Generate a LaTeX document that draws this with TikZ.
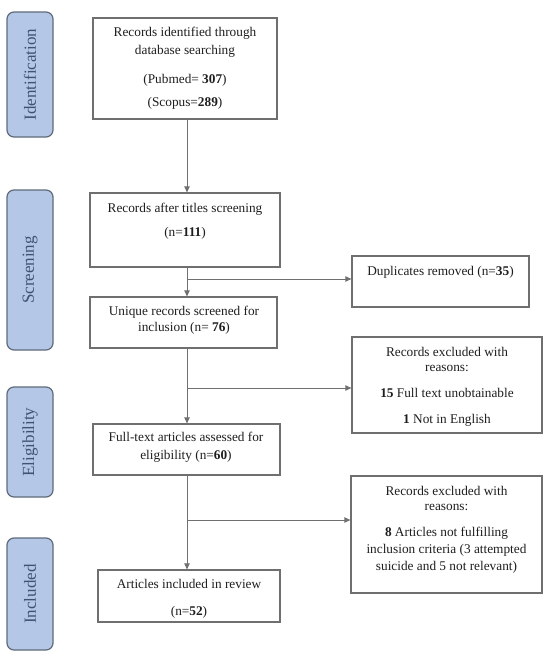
\documentclass[tikz,border=0pt]{standalone}
\usepackage{fontspec}
\setmainfont{Liberation Serif}
\usetikzlibrary{arrows.meta}
\definecolor{boxline}{HTML}{6F6F6F}
\definecolor{arrline}{HTML}{707070}
\definecolor{phasefill}{HTML}{B4C7E7}
\definecolor{phaseline}{HTML}{5F6B7A}
\definecolor{phasetext}{HTML}{3E5272}
\definecolor{txtcol}{HTML}{1E1E1E}
\begin{document}
\begin{tikzpicture}[x=1pt,y=-1pt,
  box/.style={draw=boxline, line width=1.3pt, inner sep=0pt},
  phase/.style={draw=phaseline, fill=phasefill, rounded corners=7pt, line width=1.2pt, minimum width=46pt, inner sep=0pt},
  phasetxt/.style={rotate=90, text=phasetext, font=\fontsize{17}{20}\selectfont, inner sep=0pt},
  txt/.style={text=txtcol, align=center, inner sep=0pt, font=\fontsize{13.3}{16}\selectfont},
  arr/.style={draw=arrline, line width=1pt, -{Triangle[length=6pt,width=5.5pt]}},
  ln/.style={draw=arrline, line width=1pt}]
\useasboundingbox (0,0) rectangle (550,656);
\fill[white] (0,0) rectangle (550,656);

% phase labels
\node[phase, minimum height=125pt] (ph1) at (30,74.5) {};
\node[phasetxt] (ph1t) at (ph1.center) {Identification};
\node[phase, minimum height=160pt] (ph2) at (30,270) {};
\node[phasetxt] (ph2t) at (ph2.center) {Screening};
\node[phase, minimum height=110pt] (ph3) at (30,442) {};
\node[phasetxt] (ph3t) at (ph3.center) {Eligibility};
\node[phase, minimum height=112pt] (ph4) at (30,594) {};
\node[phasetxt] (ph4t) at (ph4.center) {Included};

% main boxes
\node[box, minimum width=184pt, minimum height=101pt] (b1) at (185,68.5) {};
\node[box, minimum width=190pt, minimum height=74pt] (b2) at (185,230) {};
\node[box, minimum width=187pt, minimum height=51pt] (b3) at (183.5,322.5) {};
\node[box, minimum width=187pt, minimum height=51pt] (b4) at (186.5,449.5) {};
\node[box, minimum width=182pt, minimum height=52pt] (b5) at (189,596) {};
% side boxes
\node[box, minimum width=177pt, minimum height=51pt] (dup) at (440.5,281.5) {};
\node[box, minimum width=190pt, minimum height=96pt] (ex1) at (447,385) {};
\node[box, minimum width=191pt, minimum height=117pt] (ex2) at (446.5,534.5) {};

% texts
\node[txt, font=\fontsize{13.3}{18}\selectfont] (t1a) at (185,42) {Records identified through\\database searching};
\node[txt] (t1b) at (185,80) {(Pubmed= \textbf{307})};
\node[txt] (t1c) at (185,103) {(Scopus=\textbf{289})};
\node[txt] (t2a) at (185,209) {Records after titles screening};
\node[txt] (t2b) at (185,233) {(n=\textbf{111})};
\node[txt, font=\fontsize{13.3}{16.5}\selectfont] (t3) at (184,320) {Unique records screened for\\inclusion (n= \textbf{76})};
\node[txt, font=\fontsize{13.3}{18}\selectfont] (t4) at (186,447.5) {Full-text articles assessed for\\eligibility (n=\textbf{60})};
\node[txt] (t5a) at (189,584) {Articles included in review};
\node[txt] (t5b) at (189,612) {(n=\textbf{52})};
\node[txt] (td) at (440.5,272) {Duplicates removed (n=\textbf{35})};
\node[txt, font=\fontsize{13.3}{15}\selectfont] (te1a) at (447,359) {Records excluded with\\reasons:};
\node[txt] (te1b) at (447,393) {\textbf{15} Full text unobtainable};
\node[txt] (te1c) at (447,420) {\textbf{1} Not in English};
\node[txt, font=\fontsize{13.3}{15}\selectfont] (te2a) at (446.5,498.5) {Records excluded with\\reasons:};
\node[txt, font=\fontsize{13.3}{17}\selectfont] (te2b) at (446.5,550) {\textbf{8} Articles not fulfilling\\inclusion criteria (3 attempted\\suicide and 5 not relevant)};

% connectors
\coordinate (spine) at (187,0);
\coordinate (j1) at (187,279);
\coordinate (j2) at (187,388);
\coordinate (j3) at (187,520);
\draw[arr] (b1.south -| spine) -- (b2.north -| spine);
\draw[arr] (b2.south -| spine) -- (b3.north -| spine);
\draw[arr] (b3.south -| spine) -- (b4.north -| spine);
\draw[arr] (b4.south -| spine) -- (b5.north -| spine);
\draw[arr] (j1) -- (dup.west |- j1);
\draw[arr] (j2) -- (ex1.west |- j2);
\draw[arr] (j3) -- (ex2.west |- j3);
\end{tikzpicture}
\end{document}
